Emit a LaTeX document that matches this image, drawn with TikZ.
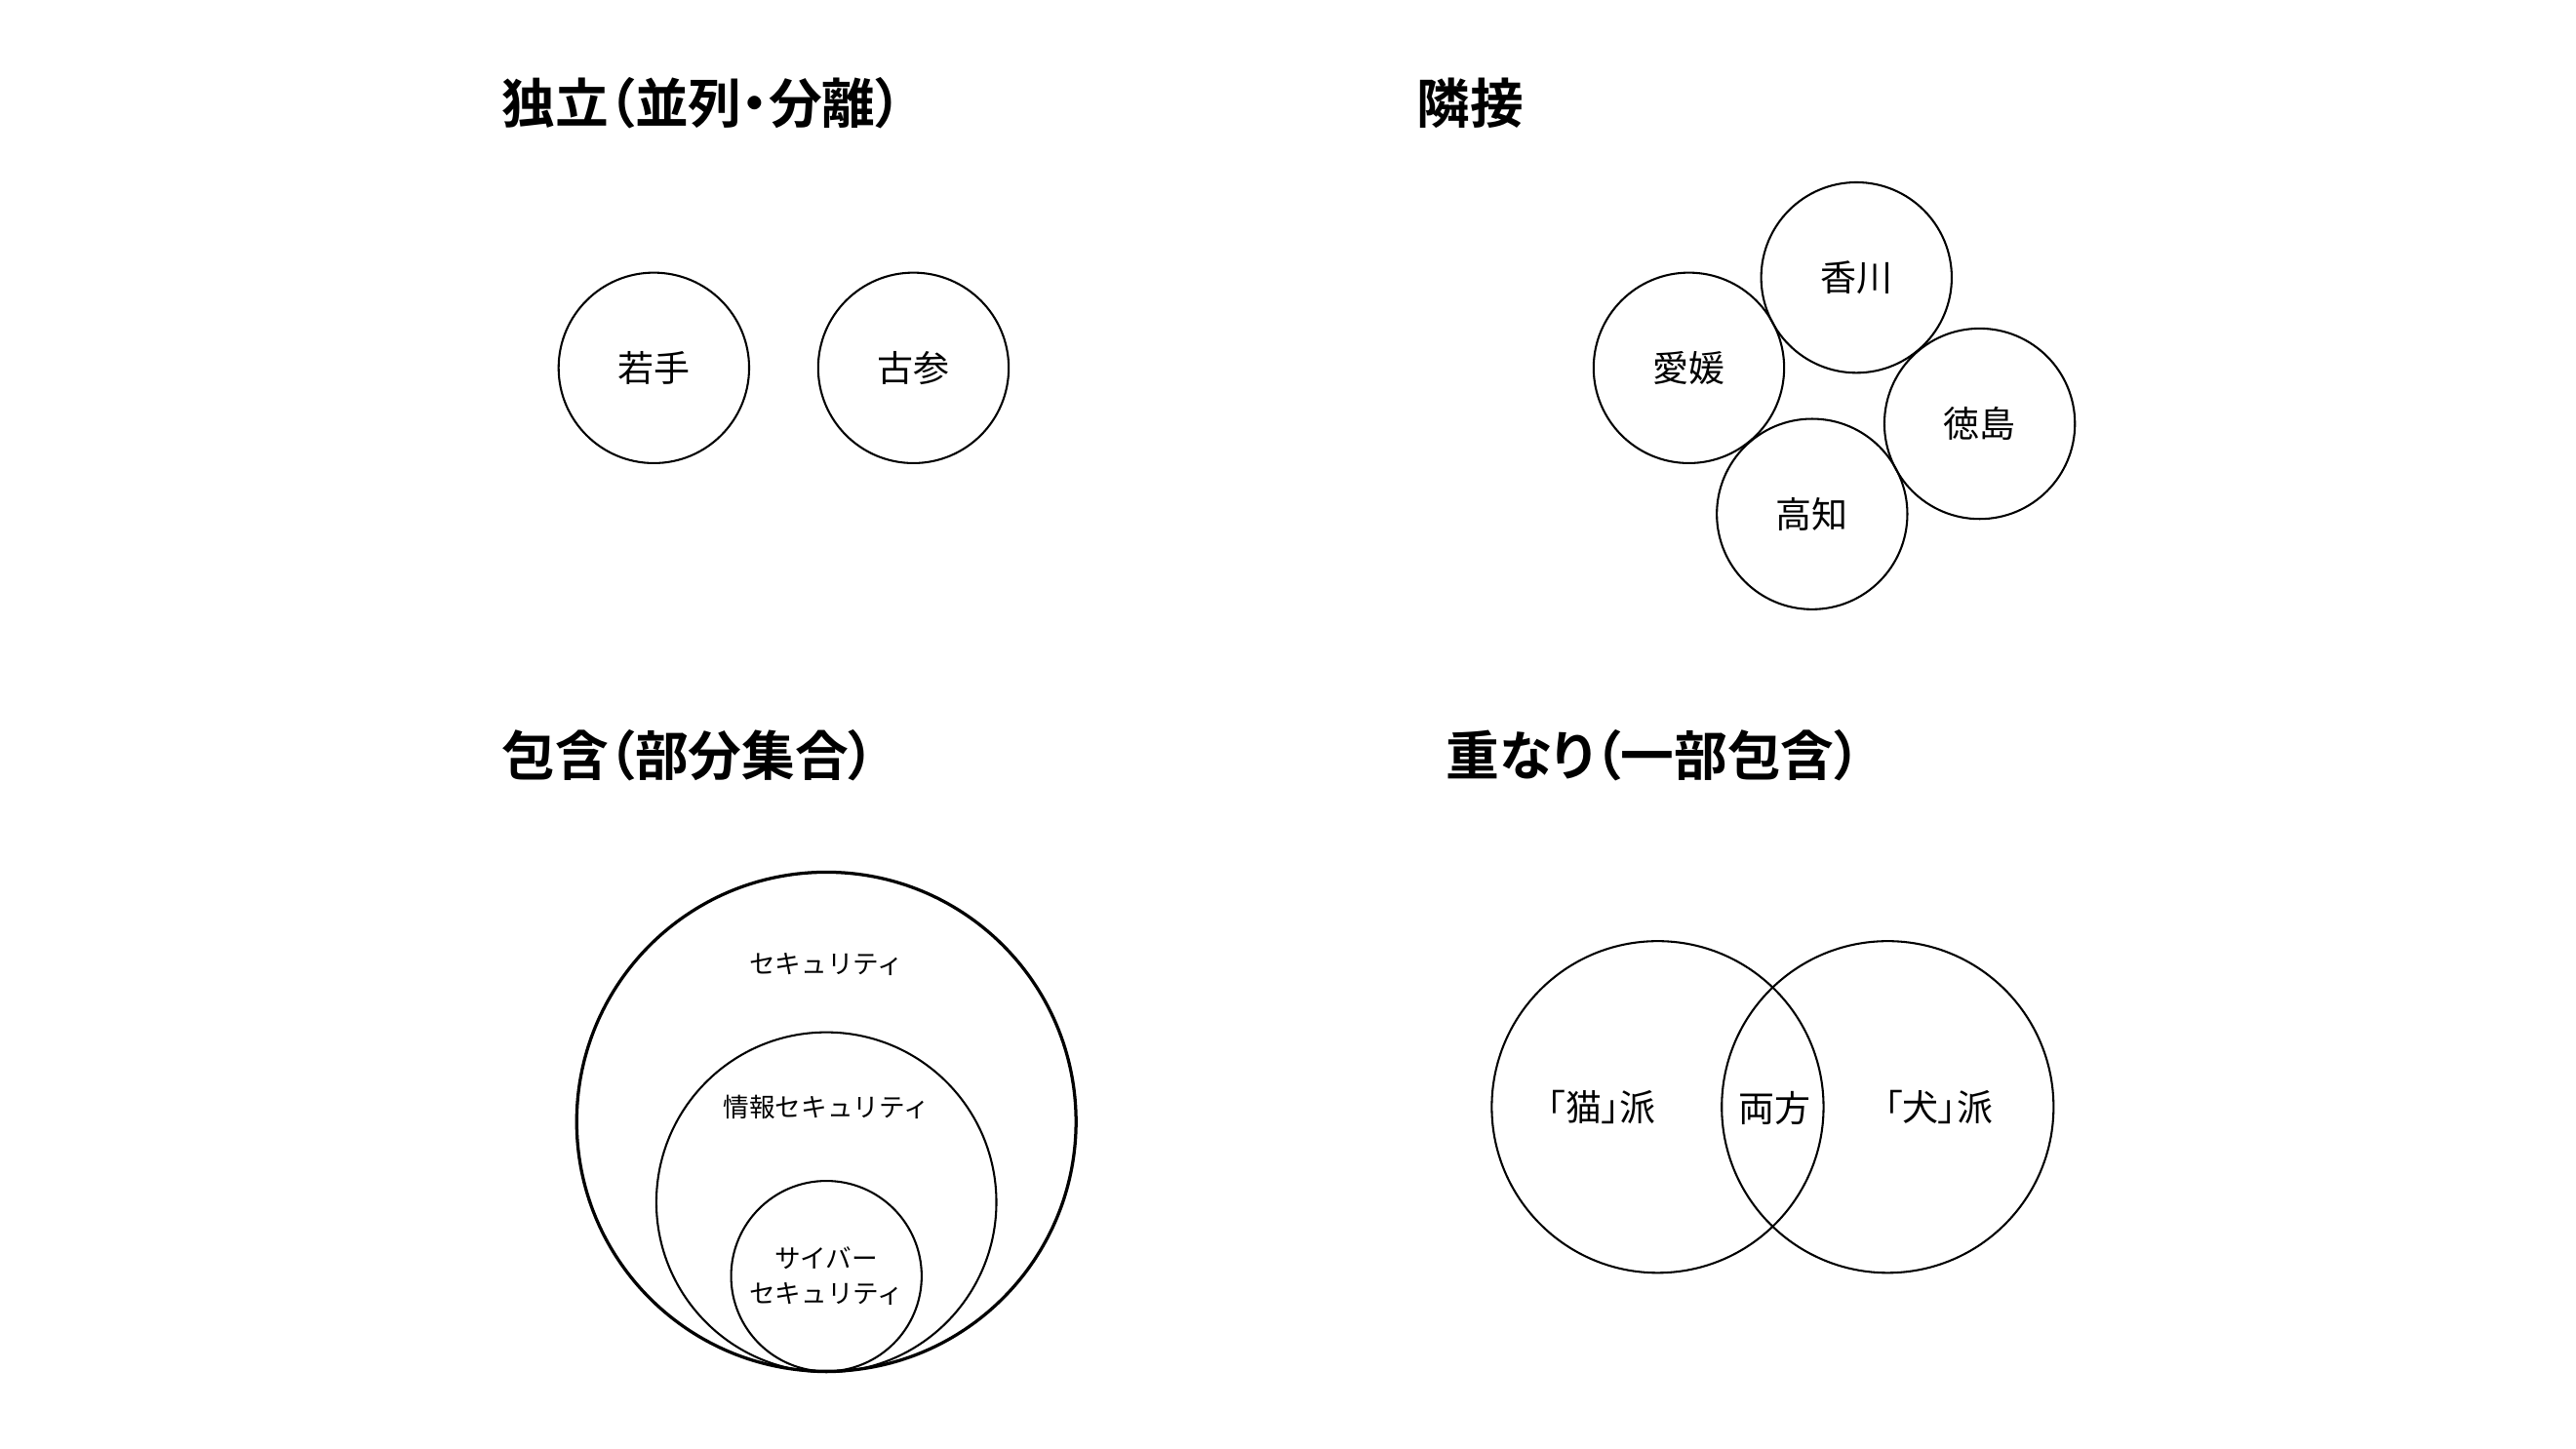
\documentclass[tikz,border=0pt]{standalone}
\usepackage{fontspec}
\setmainfont{Noto Sans CJK JP}[BoldFont={Noto Sans CJK JP Bold}]
\newfontfamily\paltfont{Noto Sans CJK JP}[BoldFont={Noto Sans CJK JP Bold},RawFeature=+palt]
\usetikzlibrary{positioning}
\tikzset{
    setnode/.style = {circle, draw=black, line width=0.7pt, inner sep=0pt, minimum size=2.32cm, font=\fontsize{12.5}{15}\selectfont},
    bignode/.style = {setnode, minimum size=4.04cm, font=\paltfont\fontsize{12.5}{15}\selectfont},
    outernode/.style = {setnode, line width=1.1pt, minimum size=6.08cm},
    middlenode/.style = {setnode, minimum size=4.14cm},
    titlenode/.style = {anchor=west, inner sep=0pt, font=\paltfont\bfseries\fontsize{18.5}{22}\selectfont},
    labelnode/.style = {align=center, inner sep=0pt, font=\fontsize{9}{12}\selectfont},
    vennlabel/.style = {inner sep=0pt, font=\paltfont\fontsize{12.5}{15}\selectfont}
}
\begin{document}
\begin{tikzpicture}[x=0.02cm, y=-0.02cm]
  \useasboundingbox (0,0) rectangle (1568,881.7);
  % titles
  \node[titlenode] (t1) at (305,63) {独立（並列・分離）};
  \node[titlenode] (t2) at (862,63) {隣接};
  \node[titlenode] (t3) at (305,460) {包含（部分集合）};
  \node[titlenode] (t4) at (880,460) {重なり（一部包含）};
  % independent
  \node[setnode] (young) at (398,224) {若手};
  \node[setnode] (senior) at (556,224) {古参};
  % adjacent
  \node[setnode] (kagawa) at (1130,169) {香川};
  \node[setnode] (ehime) at (1028,224) {愛媛};
  \node[setnode] (tokushima) at (1205,258) {徳島};
  \node[setnode] (kochi) at (1103,313) {高知};
  % inclusion
  \node[outernode] (sec) at (503,683) {};
  \node[middlenode] (infosec) at (503,732) {};
  \node[setnode] (cyber) at (503,777) {};
  \node[labelnode] (secl) at (503,587) {セキュリティ};
  \node[labelnode] (infosecl) at (503,674) {情報セキュリティ};
  \node[labelnode] (cyberl) at (cyber) {サイバー\\セキュリティ};
  % overlap
  \node[bignode] (cat) at (1009,674) {};
  \node[bignode] (dog) at (1149,674) {};
  \node[vennlabel] (catl) at (975,674) {「猫」派};
  \node[vennlabel] (both) at (1080,675) {両方};
  \node[vennlabel] (dogl) at (1180,674) {「犬」派};
\end{tikzpicture}
\end{document}
